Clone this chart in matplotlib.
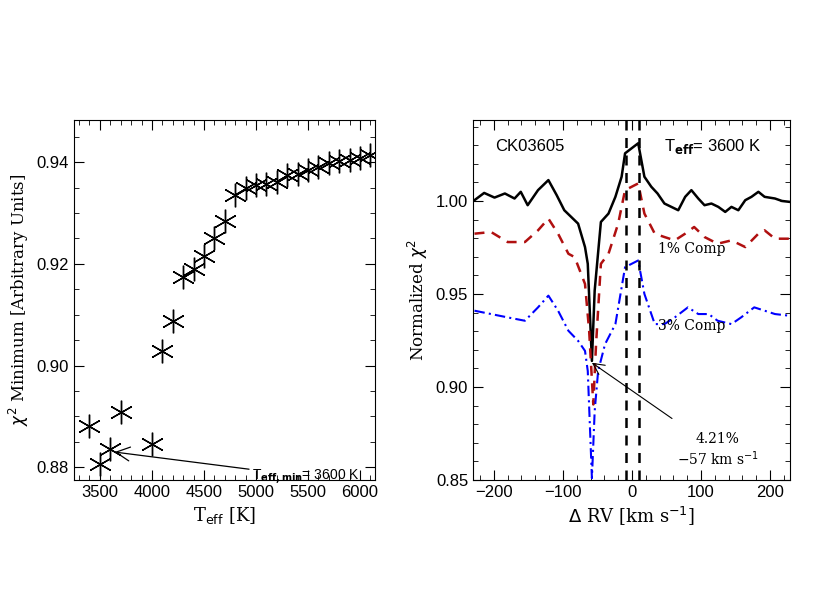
import matplotlib
matplotlib.use("Agg")
import matplotlib.pyplot as plt
from matplotlib.ticker import MultipleLocator, FormatStrFormatter

teff = [3400,3500,3600,3700,4000,4100,4200,4300,4400,4500,4600,4700,4800,4900,5000,5100,5200,5300,5400,5500,5600,5700,5800,5900,6000,6100]
chi2min = [0.8882,0.8806,0.8836,0.8908,0.8846,0.9029,0.9088,0.9175,0.9190,0.9215,0.9250,0.9285,0.9335,0.9350,0.9355,0.9358,0.9362,0.9375,0.9376,0.9385,0.9390,0.9398,0.9402,0.9404,0.9408,0.9415]

rv_b = [-228,-214,-199,-184,-170,-161,-151,-136,-121,-109,-98,-88,-78,-68,-64,-58,-54,-45,-34,-24,-15,-10,9,18,28,37,47,57,67,77,86,96,105,115,125,135,144,154,164,173,183,192,207,217,228]
chi_b = [1.0004,1.0043,1.0018,1.0040,1.0013,1.0049,0.9977,1.0058,1.0112,1.0031,0.9950,0.9914,0.9878,0.9752,0.9662,0.9140,0.9518,0.9887,0.9932,1.0022,1.0130,1.0256,1.0310,1.0130,1.0076,1.0040,0.9986,0.9968,0.9950,1.0022,1.0058,1.0013,0.9977,0.9986,0.9968,0.9941,0.9968,0.9950,1.0004,1.0022,1.0049,1.0022,1.0013,1.0000,0.9995]
rv_r = [-228,-204,-180,-155,-136,-121,-107,-92,-83,-68,-62,-56,-52,-45,-34,-20,-10,9,18,33,47,62,77,90,105,124,144,164,183,192,207,228]
chi_r = [0.9824,0.9833,0.9779,0.9779,0.9842,0.9905,0.9824,0.9716,0.9698,0.9554,0.9302,0.8906,0.9230,0.9662,0.9716,0.9878,1.0058,1.0094,0.9932,0.9824,0.9806,0.9788,0.9824,0.9860,0.9806,0.9770,0.9788,0.9752,0.9824,0.9842,0.9797,0.9797]
rv_u = [-228,-204,-180,-155,-136,-121,-107,-92,-78,-68,-64,-58,-54,-49,-39,-24,-10,9,18,33,47,62,81,96,111,124,144,158,177,192,207,228]
chi_u = [0.9410,0.9392,0.9374,0.9356,0.9428,0.9491,0.9410,0.9302,0.9248,0.9194,0.9086,0.8510,0.8870,0.9086,0.9230,0.9338,0.9644,0.9680,0.9500,0.9338,0.9338,0.9374,0.9428,0.9392,0.9392,0.9356,0.9338,0.9374,0.9428,0.9410,0.9392,0.9383]
vlines = [-9, 10]

serif = "DejaVu Serif"
plt.rcParams['font.family'] = ['Liberation Sans', 'DejaVu Sans']

fig = plt.figure(figsize=(8.3, 6), dpi=100)
ax1 = fig.add_axes([0.089, 0.2, 0.363, 0.6])
ax2 = fig.add_axes([0.570, 0.2, 0.382, 0.6])

for ax in (ax1, ax2):
    ax.tick_params(which='both', direction='in', top=True, right=True, labelsize=12)
    ax.tick_params(which='major', length=7)
    ax.tick_params(which='minor', length=3.5)

ax1.plot(teff, chi2min, linestyle='none', marker=(6, 2, 0), markersize=17, color='black', markeredgewidth=1)
ax1.set_xlim(3250, 6145)
ax1.set_ylim(0.8775, 0.9483)
ax1.xaxis.set_major_locator(MultipleLocator(500))
ax1.xaxis.set_minor_locator(MultipleLocator(100))
ax1.yaxis.set_major_locator(MultipleLocator(0.02))
ax1.yaxis.set_minor_locator(MultipleLocator(0.005))
ax1.yaxis.set_major_formatter(FormatStrFormatter('%.2f'))
ax1.set_xlabel(r'T$_{\mathrm{eff}}$ [K]', fontsize=13, family=serif)
ax1.set_ylabel(r'$\chi^2$ Minimum [Arbitrary Units]', fontsize=12, family=serif)
ax1.annotate(r'T$_{\mathbf{eff,min}}$= 3600 K', xy=(3640, 0.8830), xytext=(4960, 0.8782),
             fontsize=10, va='center',
             arrowprops=dict(arrowstyle='->', color='black', lw=0.9, shrinkA=0, shrinkB=0, mutation_scale=25))

ax2.plot(rv_b, chi_b, color='black', lw=1.8)
ax2.plot(rv_r, chi_r, color='#b01010', lw=1.8, dashes=(4, 3))
ax2.plot(rv_u, chi_u, color='blue', lw=1.5, dashes=(5, 2, 1, 2))
for v in vlines:
    ax2.axvline(v, color='black', lw=1.8, dashes=(4, 3))
ax2.set_xlim(-230, 229)
ax2.set_ylim(0.85, 1.0435)
ax2.xaxis.set_major_locator(MultipleLocator(100))
ax2.xaxis.set_minor_locator(MultipleLocator(20))
ax2.yaxis.set_major_locator(MultipleLocator(0.05))
ax2.yaxis.set_minor_locator(MultipleLocator(0.01))
ax2.yaxis.set_major_formatter(FormatStrFormatter('%.2f'))
ax2.set_xlabel(r'$\Delta$ RV [km s$^{-1}$]', fontsize=13, family=serif)
ax2.set_ylabel(r'Normalized $\chi^2$', fontsize=12, family=serif)
ax2.text(-198, 1.029, 'CK03605', fontsize=12, va='center')
ax2.text(47, 1.029, r'T$_{\mathbf{eff}}$= 3600 K', fontsize=12, va='center')
ax2.text(86, 0.974, '1% Comp', fontsize=10, va='center', ha='center', family=serif)
ax2.text(86, 0.933, '3% Comp', fontsize=10, va='center', ha='center', family=serif)
ax2.annotate('4.21%\n' + r'$-$57 km s$^{-1}$', xy=(-58, 0.913), xytext=(124, 0.866),
             fontsize=10, ha='center', va='center', family=serif,
             arrowprops=dict(arrowstyle='->', color='black', lw=0.8, shrinkA=14, shrinkB=0, mutation_scale=20))

fig.savefig('out.png', dpi=100)
